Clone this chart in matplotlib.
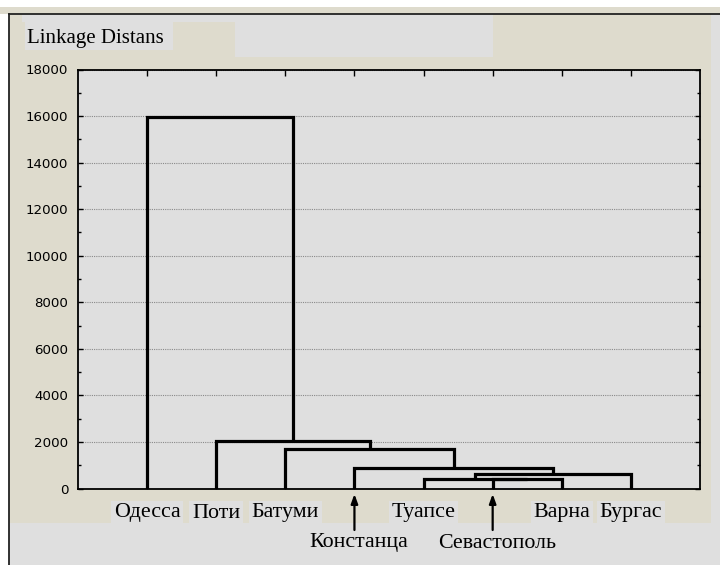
import matplotlib
matplotlib.use("Agg")
import matplotlib.pyplot as plt
from matplotlib.patches import Rectangle
from matplotlib.lines import Line2D
from matplotlib.transforms import blended_transform_factory

# leaves of the tree, left to right
leaves = ['Одесса', 'Поти', 'Батуми', 'Констанца', 'Туапсе', 'Севастополь', 'Варна', 'Бургас']
# 0 = first label row, 1 = second row with an arrow
label_row = [0, 0, 0, 1, 0, 1, 0, 0]

# joins: node ids 0..7 are leaves, each join makes node 8, 9, ...
join_left = [5, 4, 9, 3, 2, 1, 0]
join_right = [6, 8, 7, 10, 11, 12, 13]
join_height = [400, 400, 620, 900, 1700, 2050, 15950]

yticks = [0, 2000, 4000, 6000, 8000, 10000, 12000, 14000, 16000, 18000]

W, H = 720, 565
BEIGE = '#dedbcd'
GRAY = '#dfdfdf'

fig = plt.figure(figsize=(W / 100, H / 100), dpi=100, facecolor='white')


def box(x0, y0, x1, y1, color):
    # rectangle given in screen pixels, y counted from the top
    fig.add_artist(Rectangle((x0 / W, 1 - y1 / H), (x1 - x0) / W, (y1 - y0) / H,
                             transform=fig.transFigure, facecolor=color,
                             edgecolor='none', zorder=-10))


# window background
box(0, 7, W, 14, BEIGE)
box(9, 14, 711, 523, BEIGE)
box(711, 14, W, 523, GRAY)
box(9, 523, W, H, GRAY)
box(22, 14, 493, 22, GRAY)
box(235, 14, 493, 57, GRAY)
box(25, 22, 173, 50, GRAY)

fig.add_artist(Line2D([9 / W, 1], [1 - 14 / H, 1 - 14 / H], transform=fig.transFigure,
                      color='#222222', lw=1.3))
fig.add_artist(Line2D([9 / W, 9 / W], [0, 1 - 14 / H], transform=fig.transFigure,
                      color='#222222', lw=1.3))

fig.text(27 / W, 1 - 43 / H, 'Linkage Distans', family='Liberation Serif',
         fontsize=15, va='baseline', ha='left')

ax = fig.add_axes([78 / W, 1 - 488.5 / H, 622 / W, (488.5 - 69.5) / H])
ax.set_facecolor(GRAY)
ax.set_xlim(0, len(leaves) + 1)
ax.set_ylim(0, 18000)

# walk the joins, keeping x and height of every node
node_x = [i + 1 for i in range(len(leaves))]
node_h = [0] * len(leaves)
for a, b, h in zip(join_left, join_right, join_height):
    xa, xb = node_x[a], node_x[b]
    ax.plot([xa, xa, xb, xb], [node_h[a], h, h, node_h[b]], color='black',
            lw=2.3, solid_joinstyle='miter', solid_capstyle='butt', zorder=3)
    node_x.append((xa + xb) / 2)
    node_h.append(h)

ax.set_yticks(yticks)
ax.set_yticks(range(1000, 18000, 2000), minor=True)
ax.set_xticks(range(1, len(leaves) + 1))
ax.set_xticklabels([])
ax.tick_params(axis='y', which='major', direction='in', length=3.5, width=1,
               right=True, pad=7, labelsize=9.6, labelfontfamily='DejaVu Sans')
ax.tick_params(axis='y', which='minor', direction='in', length=2.5, width=1, right=True)
ax.tick_params(axis='x', direction='in', length=4, width=1, top=True)
for s in ax.spines.values():
    s.set_linewidth(1.3)
ax.grid(axis='y', which='major', linestyle=(0, (1, 1)), color='#8a8a8a', lw=0.8)
ax.set_axisbelow(True)

# leaf names under the axis, in figure pixels from the bottom
trans = blended_transform_factory(ax.transData, fig.dpi_scale_trans)
row_y = [H - 513, H - 543]
for i, name in enumerate(leaves):
    x = i + 1
    r = label_row[i]
    ax.text(x + (0.06 if r else 0), row_y[r] / 100, name, transform=trans,
            family='Liberation Serif', fontsize=15.8, ha='center', va='center',
            bbox=dict(facecolor=GRAY, edgecolor='none', pad=2), clip_on=False)
    if r:
        ax.annotate('', xy=(x, (H - 494) / 100), xycoords=trans,
                    xytext=(x, (H - 530) / 100), textcoords=trans,
                    arrowprops=dict(arrowstyle='-|>,head_length=0.55,head_width=0.2',
                                    color='black', lw=1.6, shrinkA=0, shrinkB=0))

fig.savefig('out.png', dpi=100, facecolor=fig.get_facecolor())
